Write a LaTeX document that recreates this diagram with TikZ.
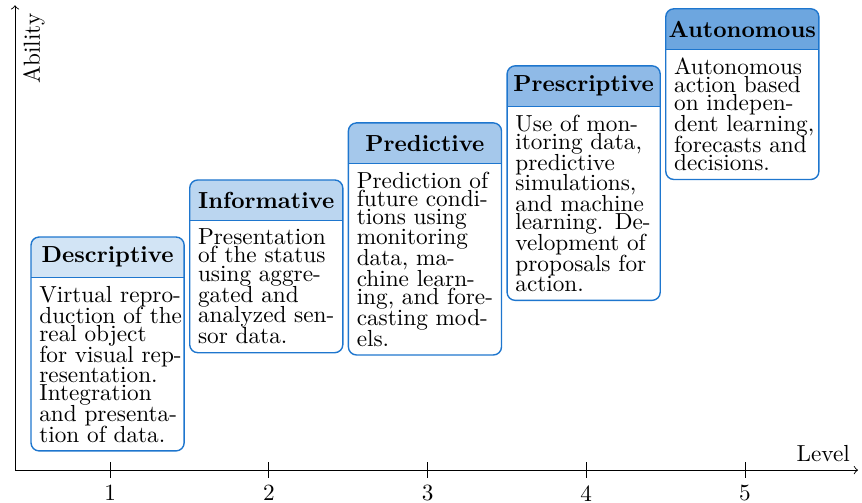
\documentclass[tikz,border=0pt]{standalone}
\usepackage{amsmath}
\usepackage{tikz}
\usetikzlibrary{positioning,backgrounds}
\definecolor{lvlblue}{RGB}{30,118,206}
\newcommand{\lvltext}{\fontsize{10}{7.8}\selectfont\setlength{\lineskip}{0pt}}
\tikzset{
  head/.style={anchor=north, minimum width=65.5pt, minimum height=17pt, inner sep=0pt, font=\bfseries},
  body/.style={below right=0pt of #1.south west, text width=64pt, inner xsep=3.4pt, inner ysep=3.5pt, align=left, font=\lvltext},
  frame/.style={draw=lvlblue, line width=0.6pt, rounded corners=3.5pt}
}

\begin{document}
\begin{tikzpicture}
        \useasboundingbox (-0.227,-0.484) rectangle (12.81,7.11);
        \draw[->] (0,0) -- (12.75,0) node[above left] (xl) {Level};
        \draw[->] (0,0) -- (0,7.03) node[anchor=north east, rotate=90] (yl) {Ability};
        \foreach \i in {1,...,5}
            \draw (2.4*\i-0.96,0.12) -- (2.4*\i-0.96,-0.12) node[below, inner sep=1.5pt, yshift=-1.5pt] (t\i) {\i};

        \node[head] (h1) at (1.40,3.525) {Descriptive};
        \node[body=h1] (b1) {Virtual repro-\\duction of the\\real object\\for visual rep-\\resentation.\\Integration\\and presenta-\\tion of data.};
        \node[head] (h2) at (3.80,4.388) {Informative};
        \node[body=h2] (b2) {Presentation\\of the status\\using aggre-\\gated and\\analyzed sen-\\sor data.};
        \node[head] (h3) at (6.20,5.251) {Predictive};
        \node[body=h3] (b3) {Prediction of\\future condi-\\tions using\\monitoring\\data, ma-\\chine learn-\\ing, and fore-\\casting mod-\\els.};
        \node[head] (h4) at (8.60,6.114) {Prescriptive};
        \node[body=h4] (b4) {Use of mon-\\itoring data,\\predictive\\simulations,\\and machine\\learning. De-\\velopment of\\proposals for\\action.};
        \node[head] (h5) at (11.00,6.977) {Autonomous};
        \node[body=h5] (b5) {Autonomous\\action based\\on indepen-\\dent learning,\\forecasts and\\decisions.};

        \begin{scope}[on background layer]
            \foreach \i/\c in {1/20,2/30,3/40,4/50,5/65}
                \fill[lvlblue!\c] (h\i.south west) [rounded corners=3.5pt] -- (h\i.north west) -- (h\i.north east) [sharp corners] -- (h\i.south east) -- cycle;
        \end{scope}
        \foreach \i in {1,...,5}{
            \draw[frame] (h\i.north west) rectangle (h\i.east |- b\i.south);
            \draw[lvlblue, line width=0.6pt] (h\i.south west) -- (h\i.south east);
        }
    \end{tikzpicture}
\end{document}
